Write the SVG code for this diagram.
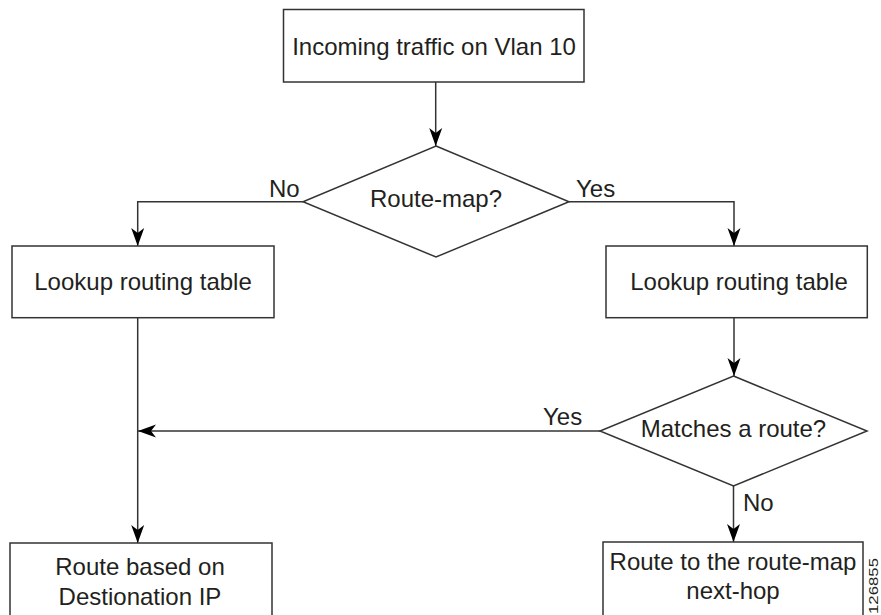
<svg xmlns="http://www.w3.org/2000/svg" width="881" height="615" viewBox="0 0 881 615">
<style>
.box{fill:#fff;stroke:#333;stroke-width:1.5}
.ln{fill:none;stroke:#333;stroke-width:1.5}
text{font-family:"Liberation Sans",Arial,sans-serif;font-size:24px;fill:#231f20}
.c{text-anchor:middle}
</style>
<defs>
<marker id="arr" viewBox="-19 -7 20 14" refX="0" refY="0" markerWidth="20" markerHeight="14" markerUnits="userSpaceOnUse" orient="auto">
<path d="M0,0 L-18,-6.5 L-13,0 L-18,6.5 Z" fill="#000"/>
</marker>
</defs>
<rect width="881" height="615" fill="#fff"/>
<g id="connectors">
<line class="ln" x1="435.7" y1="82" x2="435.7" y2="146" marker-end="url(#arr)"/>
<polyline class="ln" points="303,201.7 137.7,201.7 137.7,246" marker-end="url(#arr)"/>
<polyline class="ln" points="569,201.7 734,201.7 734,246" marker-end="url(#arr)"/>
<line class="ln" x1="734" y1="318" x2="734" y2="376" marker-end="url(#arr)"/>
<line class="ln" x1="600" y1="431" x2="138" y2="431" marker-end="url(#arr)"/>
<line class="ln" x1="137.7" y1="318" x2="137.7" y2="543" marker-end="url(#arr)"/>
<line class="ln" x1="733.5" y1="486" x2="733.5" y2="542" marker-end="url(#arr)"/>
<text x="269" y="197">No</text>
<text x="576" y="197">Yes</text>
<text x="543" y="425">Yes</text>
<text x="743" y="511">No</text>
</g>
<g id="incoming">
<rect class="box" x="283.5" y="9.5" width="300.5" height="72.5"/>
<text class="c" x="434" y="55">Incoming traffic on Vlan 10</text>
</g>
<g id="routemap">
<polygon class="box" points="436,146 569,201.7 436,257 303,201.7"/>
<text class="c" x="436" y="207">Route-map?</text>
</g>
<g id="lookup-left">
<rect class="box" x="12" y="246" width="262" height="71.7"/>
<text class="c" x="143" y="290">Lookup routing table</text>
</g>
<g id="lookup-right">
<rect class="box" x="606" y="246" width="261.3" height="71.7"/>
<text class="c" x="739" y="290">Lookup routing table</text>
</g>
<g id="matches">
<polygon class="box" points="733.5,376 867,431 733.5,486 600,431"/>
<text class="c" x="733.5" y="437">Matches a route?</text>
</g>
<g id="route-dest">
<rect class="box" x="10" y="543" width="262" height="80"/>
<text class="c" x="140" y="575">Route based on</text>
<text class="c" x="140" y="605">Destionation IP</text>
</g>
<g id="route-nexthop">
<rect class="box" x="603" y="542" width="260" height="80"/>
<text class="c" x="733" y="570">Route to the route-map</text>
<text class="c" x="733" y="599">next-hop</text>
</g>
<text transform="translate(877.5,614) rotate(-90)" style="font-size:12.5px" textLength="56" lengthAdjust="spacingAndGlyphs">126855</text>
</svg>
